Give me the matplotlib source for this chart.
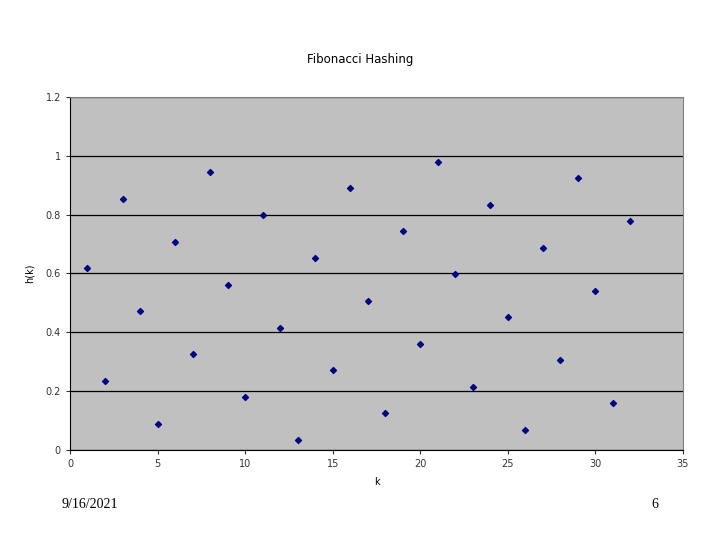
import matplotlib
matplotlib.use("Agg")
import matplotlib.pyplot as plt

# Fibonacci hashing values
k = list(range(1, 33))
h = [0.618, 0.236, 0.854, 0.472, 0.090, 0.708, 0.326, 0.944,
     0.562, 0.180, 0.798, 0.416, 0.034, 0.652, 0.271, 0.889,
     0.507, 0.125, 0.743, 0.361, 0.979, 0.597, 0.215, 0.833,
     0.451, 0.069, 0.687, 0.305, 0.923, 0.541, 0.159, 0.777]

x_ticks = [0, 5, 10, 15, 20, 25, 30, 35]
y_ticks = [0, 0.2, 0.4, 0.6, 0.8, 1, 1.2]
y_labels = ['0', '0.2', '0.4', '0.6', '0.8', '1', '1.2']

fig = plt.figure(figsize=(7.2, 5.4), dpi=100)
ax = fig.add_axes([0.0972, 0.1667, 0.8514, 0.6537])
ax.set_facecolor('#c0c0c0')

ax.scatter(k, h, marker='D', s=9, color='#000080', zorder=3)

ax.set_xlim(0, 35)
ax.set_ylim(0, 1.2)
ax.set_xticks(x_ticks)
ax.set_yticks(y_ticks)
ax.set_yticklabels(y_labels)
ax.tick_params(labelsize=7, colors='#333333', length=3, width=0.8)
ax.yaxis.grid(True, color='black', linewidth=0.9)
ax.set_axisbelow(True)

for side in ['top', 'right']:
    ax.spines[side].set_color('#808080')
for side in ['left', 'bottom']:
    ax.spines[side].set_color('black')

ax.set_xlabel('k', fontsize=7, labelpad=6)
ax.set_ylabel('h(k)', fontsize=7, labelpad=8)
fig.text(0.5, 0.889, 'Fibonacci Hashing', ha='center', va='center', fontsize=8.5)

fig.text(0.125, 0.065, '9/16/2021', ha='center', va='center',
         fontsize=10, family='Liberation Serif')
fig.text(0.91, 0.065, '6', ha='center', va='center',
         fontsize=10, family='Liberation Serif')

fig.savefig('out.png', dpi=100)
